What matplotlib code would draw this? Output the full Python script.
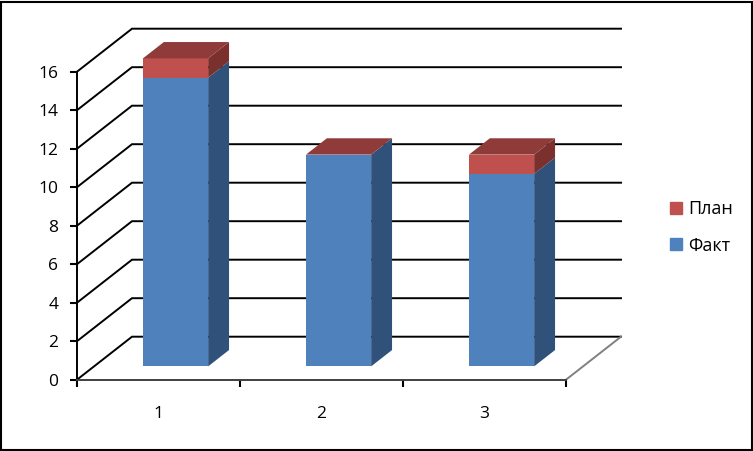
import matplotlib
matplotlib.use('Agg')
import matplotlib.pyplot as plt
from matplotlib.patches import Patch, Rectangle

plt.rcParams['font.family'] = ['Open Sans', 'DejaVu Sans']

categories = [1, 2, 3]
fact = [15, 11, 10]
plan = [1, 0, 1]
y_ticks = [0, 2, 4, 6, 8, 10, 12, 14, 16]
series_names = ['План', 'Факт']

W, H = 753, 451
# depth of the fake 3d box, in data units (55px right, 43px up)
DX = 55 / 163
DY = 43 / 19.25
BAR_W = 0.4
D0, D1 = 0.31, 0.69

BLUE = '#4f81bd'
BLUE_SIDE = '#30527a'
RED = '#c0504d'
RED_SIDE = '#7b302e'
RED_TOP = '#8e3b39'
FONT = 12.5


def proj(x, y, d):
    return x + d * DX, y + d * DY


def poly(ax, pts, color, z):
    xs = [p[0] for p in pts]
    ys = [p[1] for p in pts]
    ax.fill(xs, ys, color=color, lw=0, zorder=z, clip_on=False)


def draw_segment(ax, cat, y0, y1, front, side, z):
    x0, x1 = cat - BAR_W / 2, cat + BAR_W / 2
    poly(ax, [proj(x1, y0, D0), proj(x1, y0, D1), proj(x1, y1, D1), proj(x1, y1, D0)], side, z)
    poly(ax, [proj(x0, y0, D0), proj(x1, y0, D0), proj(x1, y1, D0), proj(x0, y1, D0)], front, z + 0.1)


fig = plt.figure(figsize=(W / 100, H / 100), dpi=100)
ax = fig.add_axes([77 / W, 1 - 379.7 / H, (566 - 77) / W, 308 / H])
ax.set_xlim(0.5, 3.5)
ax.set_ylim(0, 16)

# walls
for v in y_ticks:
    xs = [0.5, 0.5 + DX, 3.5 + DX]
    ys = [v, v + DY, v + DY]
    ax.plot(xs, ys, color='black', lw=1.4, zorder=1, clip_on=False, solid_joinstyle='miter')
# floor
ax.plot([3.5, 3.5 + DX], [0, DY], color='#808080', lw=1.4, zorder=1, clip_on=False)

# bars
for i, cat in enumerate(categories):
    top = fact[i] + plan[i]
    draw_segment(ax, cat, 0, fact[i], BLUE, BLUE_SIDE, 3)
    if plan[i] > 0:
        draw_segment(ax, cat, fact[i], top, RED, RED_SIDE, 4)
    x0, x1 = cat - BAR_W / 2, cat + BAR_W / 2
    poly(ax, [proj(x0, top, D0), proj(x1, top, D0), proj(x1, top, D1), proj(x0, top, D1)], RED_TOP, 5)

for s in ['top', 'right']:
    ax.spines[s].set_visible(False)
ax.spines['left'].set_linewidth(1.4)
ax.spines['bottom'].set_linewidth(1.4)
ax.spines['bottom'].set_color('#404040')
ax.patch.set_visible(False)

ax.set_yticks(y_ticks)
ax.set_xticks([0.5, 1.5, 2.5, 3.5])
ax.set_xticklabels([])
ax.set_xticks(categories, minor=True)
ax.set_xticklabels(categories, minor=True)
ax.tick_params(axis='x', which='major', length=5, width=1.5)
ax.tick_params(axis='x', which='minor', length=0, pad=19, labelsize=FONT)
ax.tick_params(axis='y', length=5, width=1.5, pad=8.5, labelsize=FONT)

handles = [Patch(color=RED), Patch(color=BLUE)]
fig.legend(handles, series_names, loc='center left', bbox_to_anchor=(654 / W, 1 - 227.5 / H),
           frameon=False, fontsize=13, handlelength=0.64, handleheight=0.64,
           handletextpad=0.33, labelspacing=1.0)

# chart border
fig.add_artist(Rectangle((1 / W, 1 / H), (W - 2.5) / W, (H - 2.5) / H, transform=fig.transFigure,
                         fill=False, ec='black', lw=1.5))

fig.savefig('out.png', dpi=100)
